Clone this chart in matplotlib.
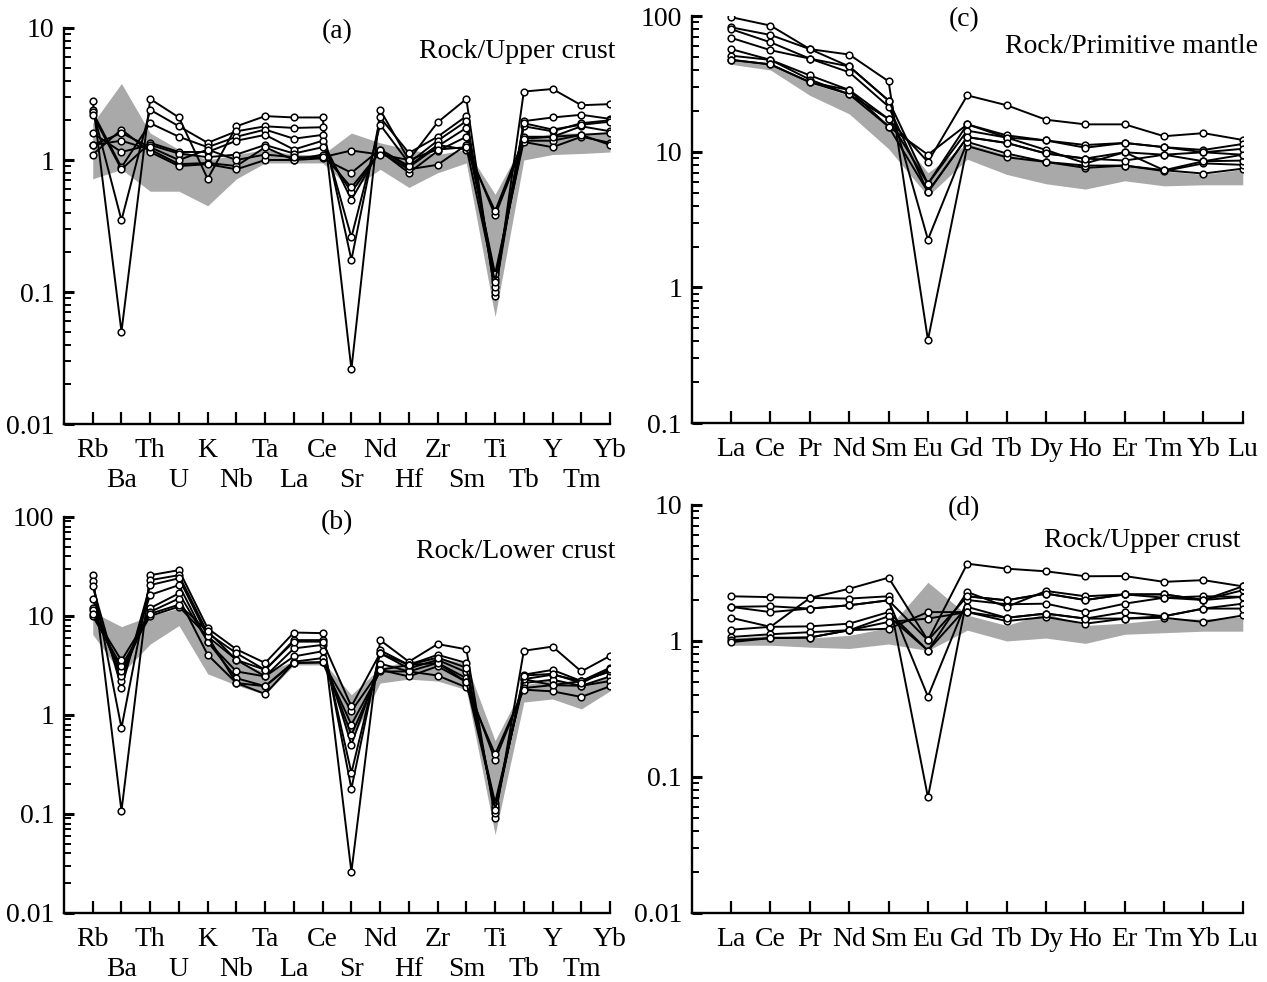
import matplotlib
matplotlib.use("Agg")
import matplotlib.pyplot as plt
import numpy as np
from matplotlib.ticker import LogLocator, FuncFormatter, NullFormatter

plt.rcParams['font.family'] = ['Liberation Serif', 'DejaVu Serif']

# spider diagram elements
trace_el = ['Rb', 'Ba', 'Th', 'U', 'K', 'Nb', 'Ta', 'La', 'Ce', 'Sr',
            'Nd', 'Hf', 'Zr', 'Sm', 'Ti', 'Tb', 'Y', 'Tm', 'Yb']
ree_el = ['La', 'Ce', 'Pr', 'Nd', 'Sm', 'Eu', 'Gd', 'Tb', 'Dy', 'Ho',
          'Er', 'Tm', 'Yb', 'Lu']

# (a) Rock / Upper crust
a_samples = [
    [2.8, 0.05, 2.9, 2.1, 0.72, 1.8, 2.15, 2.1, 2.1, 0.026, 2.4, 1.0, 1.93, 2.9, 0.094, 3.3, 3.45, 2.6, 2.65],
    [2.4, 0.35, 2.4, 1.8, 1.35, 1.65, 1.8, 1.75, 1.77, 0.175, 2.1, 1.13, 1.5, 2.15, 0.1, 1.97, 2.1, 2.2, 2.05],
    [2.3, 0.88, 1.9, 1.5, 1.25, 1.5, 1.7, 1.45, 1.55, 0.26, 1.85, 0.95, 1.4, 1.97, 0.11, 1.8, 1.65, 1.9, 2.0],
    [2.2, 0.85, 1.35, 1.15, 1.15, 1.4, 1.55, 1.2, 1.4, 0.5, 1.2, 0.88, 1.27, 1.75, 0.125, 1.5, 1.5, 1.8, 1.65],
    [1.6, 1.15, 1.3, 1.12, 1.05, 1.1, 1.3, 1.12, 1.25, 0.57, 1.17, 0.8, 1.17, 1.5, 0.137, 1.4, 1.4, 1.55, 1.6],
    [1.3, 1.4, 1.2, 0.93, 0.95, 0.9, 1.25, 1.0, 1.1, 0.62, 1.15, 0.85, 0.92, 1.3, 0.38, 1.37, 1.25, 1.5, 1.35],
    [1.1, 1.7, 1.15, 0.9, 0.93, 0.85, 1.0, 1.0, 1.03, 0.8, 1.2, 0.9, 1.3, 1.2, 0.41, 1.45, 1.5, 1.55, 1.3],
    [1.3, 1.6, 1.25, 1.0, 1.2, 1.0, 1.1, 1.05, 1.05, 1.18, 1.1, 1.0, 1.2, 1.25, 0.12, 1.9, 1.7, 1.85, 1.95],
]
a_band_lo = [0.72, 0.85, 0.58, 0.58, 0.45, 0.72, 0.95, 0.95, 0.95, 0.6, 0.85, 0.62, 0.8, 0.95, 0.065, 1.0, 1.1, 1.12, 1.15]
a_band_hi = [1.9, 3.8, 1.6, 1.2, 1.0, 1.1, 1.2, 1.1, 1.1, 1.6, 1.35, 1.2, 1.1, 1.2, 0.55, 1.4, 1.6, 1.6, 1.6]

# (b) Rock / Lower crust
b_samples = [
    [26, 0.107, 25.8, 29, 7.5, 4.6, 3.35, 6.8, 6.7, 0.026, 5.7, 3.45, 5.2, 4.6, 0.092, 4.45, 4.9, 2.75, 3.95],
    [22.5, 0.74, 23, 25.8, 6.7, 4.2, 2.85, 5.7, 5.7, 0.18, 4.5, 3.2, 4.05, 3.35, 0.103, 2.55, 2.85, 2.2, 3.0],
    [20, 1.87, 20.5, 24, 6.2, 3.6, 2.45, 4.7, 5.1, 0.26, 4.2, 2.95, 3.6, 2.7, 0.115, 2.3, 2.55, 2.2, 2.75],
    [15, 2.2, 16.3, 20.5, 5.5, 2.75, 2.45, 3.9, 4.4, 0.5, 3.3, 2.75, 3.35, 2.35, 0.13, 2.1, 2.27, 1.97, 2.45],
    [12, 2.45, 12, 16.9, 5.5, 2.35, 1.95, 3.45, 3.75, 0.63, 2.85, 2.45, 3.1, 2.15, 0.35, 1.87, 2.0, 1.97, 2.2],
    [11.5, 2.75, 11, 15, 4.05, 2.1, 1.63, 3.35, 3.4, 0.8, 2.75, 2.75, 2.5, 1.9, 0.4, 1.8, 1.73, 1.52, 1.95],
    [10, 3.1, 10, 12.4, 6.2, 2.1, 1.95, 3.35, 3.4, 1.09, 2.85, 3.2, 3.35, 2.15, 0.12, 2.3, 2.0, 2.2, 2.75],
    [10.5, 3.55, 10.5, 13, 7.0, 3.6, 2.85, 5.5, 5.5, 1.22, 4.2, 3.2, 3.8, 3.0, 0.11, 2.5, 2.6, 2.1, 2.9],
]
b_band_lo = [6.5, 2.6, 5.2, 8.0, 2.6, 2.0, 1.6, 3.2, 3.2, 0.55, 2.1, 2.3, 2.2, 1.8, 0.062, 1.35, 1.45, 1.15, 1.75]
b_band_hi = [11, 7.8, 10, 12, 6.0, 3.5, 2.7, 3.5, 3.5, 1.6, 3.0, 3.5, 3.8, 3.3, 0.55, 2.0, 2.3, 2.0, 2.5]

# (c) Rock / Primitive mantle
c_samples = [
    [98, 85, 57, 52, 33, 0.41, 11.0, 9.1, 8.4, 7.6, 7.9, 7.3, 6.9, 7.5],
    [82.5, 72.5, 57, 42.5, 23.8, 2.25, 11.8, 9.7, 8.4, 7.9, 7.9, 7.2, 8.2, 8.0],
    [80, 64, 48.5, 38.5, 21.5, 5.05, 12.8, 11.6, 9.7, 8.9, 8.6, 9.5, 8.5, 8.6],
    [69, 56, 48.5, 42.5, 23.8, 5.8, 14.3, 12.7, 10.3, 8.2, 9.9, 7.3, 8.5, 9.5],
    [57, 47.5, 36.5, 28.5, 17.4, 8.4, 26, 22, 17.2, 15.9, 15.9, 13.0, 13.7, 12.2],
    [51, 47.5, 34, 26.5, 15.3, 9.5, 15.9, 13.2, 12.1, 11.2, 11.6, 10.8, 10.3, 11.4],
    [47.5, 44, 32.5, 26.5, 17.4, 5.8, 15.9, 12.7, 12.1, 10.7, 11.6, 10.8, 9.9, 10.5],
    [47.5, 44, 32.5, 28.5, 15.3, 5.05, 12.8, 11.6, 9.7, 8.9, 9.9, 9.5, 9.9, 9.5],
]
c_band_lo = [44, 40, 26, 19, 10.5, 4.7, 8.8, 6.8, 5.8, 5.3, 6.1, 5.6, 5.7, 5.7]
c_band_hi = [48, 44, 32, 26, 16, 7.0, 11.5, 9.5, 8.5, 7.6, 8.0, 7.2, 6.8, 7.4]

# (d) Rock / Upper crust
d_samples = [
    [2.13, 2.1, 2.07, 2.05, 2.13, 0.071, 2.13, 1.99, 2.23, 2.0, 2.2, 2.2, 2.0, 2.36],
    [1.78, 1.8, 1.73, 1.83, 1.99, 0.39, 2.0, 1.86, 1.88, 1.63, 1.88, 2.08, 2.13, 2.11],
    [1.48, 1.27, 2.07, 2.42, 2.92, 1.01, 3.7, 3.4, 3.25, 2.99, 3.0, 2.72, 2.8, 2.52],
    [1.21, 1.27, 1.28, 1.34, 1.63, 0.85, 2.29, 1.78, 2.33, 2.13, 2.2, 2.2, 2.0, 2.52],
    [1.07, 1.12, 1.16, 1.2, 1.52, 0.85, 1.78, 1.48, 1.59, 1.46, 1.63, 1.52, 1.73, 1.88],
    [1.01, 1.05, 1.06, 1.2, 1.38, 1.46, 1.63, 1.4, 1.5, 1.34, 1.46, 1.48, 1.38, 1.54],
    [0.98, 1.05, 1.06, 1.2, 1.23, 1.63, 1.63, 1.48, 1.59, 1.46, 1.46, 1.52, 1.73, 1.73],
    [1.78, 1.63, 1.73, 1.83, 1.99, 1.01, 2.13, 1.99, 2.23, 2.0, 2.2, 2.08, 2.0, 2.11],
]
d_band_lo = [0.93, 0.93, 0.9, 0.88, 0.95, 0.85, 1.2, 1.0, 1.05, 0.96, 1.12, 1.15, 1.18, 1.18]
d_band_hi = [1.05, 1.1, 1.05, 1.1, 1.25, 2.7, 1.55, 1.3, 1.6, 1.3, 1.35, 1.45, 1.45, 1.5]

FS = 20


def spider(ax, elems, samples, lo, hi, ylim, tag, norm, tag_xy, norm_xy, two_rows):
    x = np.arange(len(elems))
    ax.fill_between(x, lo, hi, color='#a9a9a9', lw=0, zorder=1)
    for s in samples:
        ax.plot(x, s, color='black', lw=1.4, marker='o', ms=4.8,
                mfc='white', mec='black', mew=1.1, zorder=3)
    ax.set_yscale('log')
    ax.set_ylim(*ylim)
    ax.set_xlim(-1, len(elems) - 1)
    ax.spines['top'].set_visible(False)
    ax.spines['right'].set_visible(False)
    for sp in ('left', 'bottom'):
        ax.spines[sp].set_linewidth(1.7)
    ax.yaxis.set_major_locator(LogLocator(base=10, numticks=10))
    ax.yaxis.set_minor_locator(LogLocator(base=10, subs=np.arange(2, 10), numticks=10))
    ax.yaxis.set_major_formatter(FuncFormatter(lambda v, p: f'{v:g}'))
    ax.yaxis.set_minor_formatter(NullFormatter())
    ax.tick_params(axis='y', which='major', direction='in', length=7, width=2.2,
                   labelsize=FS, pad=7)
    ax.tick_params(axis='y', which='minor', direction='in', length=5, width=1.4)
    ax.set_xticks(x)
    ax.set_xticklabels([])
    ax.tick_params(axis='x', direction='in', length=9, width=1.6)
    # element names: one row, or alternating two rows
    for i, e in enumerate(elems):
        off = 19 if (not two_rows or i % 2 == 0) else 40.5
        ax.annotate(e, xy=(i, 0), xycoords=('data', 'axes fraction'),
                    xytext=(0, -off), textcoords='offset points',
                    ha='center', va='center', fontsize=FS)
    ax.text(tag_xy[0], tag_xy[1], tag, transform=ax.transAxes, fontsize=FS,
            ha='center', va='center')
    ax.text(norm_xy[0], norm_xy[1], norm, transform=ax.transAxes, fontsize=FS,
            ha='right', va='center')


fig = plt.figure(figsize=(12.67, 9.82), dpi=100)
ax_a = fig.add_axes([0.0505, 0.5682, 0.431, 0.4033])
ax_b = fig.add_axes([0.0505, 0.0703, 0.431, 0.4033])
ax_c = fig.add_axes([0.546, 0.5692, 0.4349, 0.4145])
ax_d = fig.add_axes([0.546, 0.0703, 0.4349, 0.4155])

spider(ax_a, trace_el, a_samples, a_band_lo, a_band_hi, (0.01, 10), '(a)',
       'Rock/Upper crust', (0.5, 0.99), (1.009, 0.94), True)
spider(ax_b, trace_el, b_samples, b_band_lo, b_band_hi, (0.01, 100), '(b)',
       'Rock/Lower crust', (0.5, 0.985), (1.009, 0.912), True)
spider(ax_c, ree_el, c_samples, c_band_lo, c_band_hi, (0.1, 100), '(c)',
       'Rock/Primitive mantle', (0.494, 0.99), (1.027, 0.926), False)
spider(ax_d, ree_el, d_samples, d_band_lo, d_band_hi, (0.01, 10), '(d)',
       'Rock/Upper crust', (0.494, 0.99), (0.995, 0.914), False)

fig.savefig('out.png', dpi=100)
